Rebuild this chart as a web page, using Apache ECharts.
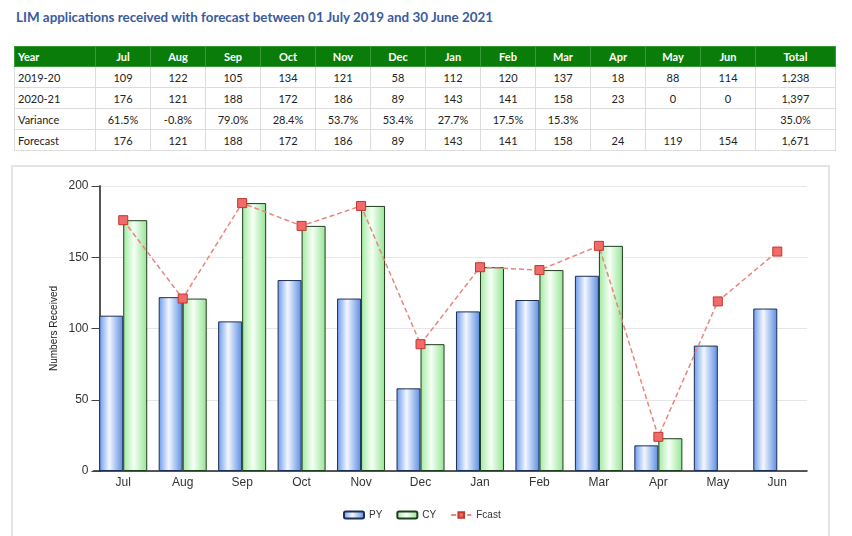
<!DOCTYPE html>
<html>
<head>
<meta charset="utf-8">
<script src="https://cdn.jsdelivr.net/npm/echarts@6/dist/echarts.min.js"></script>
<style>
  html, body { margin: 0; padding: 0; background: #fff; }
  body { width: 852px; height: 536px; position: relative; overflow: hidden; }
  #title { position: absolute; left: 16px; top: 9px; font-family: Lato, "Open Sans", sans-serif; font-weight: bold; font-size: 13.4px; color: #3a5ba0; white-space: nowrap; }
  #tbl { position: absolute; left: 14px; top: 46px; border-collapse: collapse; font-family: Lato, "Open Sans", sans-serif; font-size: 11px; color: #222; table-layout: fixed; }
  #tbl th { background: #0a7c0a; color: #fff; font-weight: bold; height: 19px; padding: 0; border: 1px solid #3a9a3a; text-align: center; }
  #tbl td { height: 20px; padding: 0; border: 1px solid #dcdcdc; text-align: center; }
  #tbl th:first-child, #tbl td:first-child { text-align: left; padding-left: 3px; }
  #panel { position: absolute; left: 11px; top: 165px; width: 815px; height: 400px; border: 2px solid #e4e4e4; }
  #chart { position: absolute; left: 0; top: 0; width: 852px; height: 536px; }
</style>
</head>
<body>
<div id="title">LIM applications received with forecast between 01 July 2019 and 30 June 2021</div>
<table id="tbl"></table>
<div id="panel"></div>
<div id="chart"></div>
<script>
const months = ['Jul','Aug','Sep','Oct','Nov','Dec','Jan','Feb','Mar','Apr','May','Jun'];
const py = [109,122,105,134,121,58,112,120,137,18,88,114];
const cyTable = [176,121,188,172,186,89,143,141,158,23,0,0];
const cyChart = [176,121,188,172,186,89,143,141,158,23,null,null];
const fcast = [176,121,188,172,186,89,143,141,158,24,119,154];
const variance = ['61.5%','-0.8%','79.0%','28.4%','53.7%','53.4%','27.7%','17.5%','15.3%','','',''];
const totals = { py: '1,238', cy: '1,397', variance: '35.0%', fcast: '1,671' };
const rowLabels = ['2019-20','2020-21','Variance','Forecast'];
const yTicks = [0, 50, 100, 150, 200];

// table
(function () {
  const tbl = document.getElementById('tbl');
  const widths = [81].concat(months.map(() => 55)).concat([80]);
  let html = '<colgroup>' + widths.map(w => '<col style="width:' + w + 'px">').join('') + '</colgroup>';
  html += '<tr><th>Year</th>' + months.map(m => '<th>' + m + '</th>').join('') + '<th>Total</th></tr>';
  const rows = [
    [rowLabels[0], py, totals.py],
    [rowLabels[1], cyTable, totals.cy],
    [rowLabels[2], variance, totals.variance],
    [rowLabels[3], fcast, totals.fcast]
  ];
  rows.forEach(r => {
    html += '<tr><td>' + r[0] + '</td>' + r[1].map(v => '<td>' + v + '</td>').join('') + '<td>' + r[2] + '</td></tr>';
  });
  tbl.innerHTML = html;
})();

const chart = echarts.init(document.getElementById('chart'));
const blueGrad = new echarts.graphic.LinearGradient(0, 0, 1, 0, [
  { offset: 0, color: '#6a9aec' },
  { offset: 0.42, color: '#f3f7ff' },
  { offset: 1, color: '#5a8ce2' }
]);
const greenGrad = new echarts.graphic.LinearGradient(0, 0, 1, 0, [
  { offset: 0, color: '#a0eaa0' },
  { offset: 0.45, color: '#f6fff6' },
  { offset: 1, color: '#94e494' }
]);
chart.setOption({
  animation: false,
  textStyle: { fontFamily: 'Liberation Sans, Arial, sans-serif' },
  grid: { left: 93.5, right: 45, top: 186, bottom: 65, containLabel: false, outerBoundsMode: 'none' },
  legend: {
    left: 338, top: 505,
    itemWidth: 20, itemHeight: 7, itemGap: 14,
    textStyle: { fontSize: 10, color: '#333' },
    data: ['PY', 'CY', 'Fcast']
  },
  xAxis: {
    type: 'category',
    data: months,
    axisLine: { lineStyle: { color: '#222', width: 1.5 } },
    axisTick: { alignWithLabel: true, length: 4, lineStyle: { color: '#222' } },
    axisLabel: { fontSize: 12, color: '#333', margin: 6 }
  },
  yAxis: {
    type: 'value',
    min: yTicks[0], max: yTicks[yTicks.length - 1], interval: 50,
    offset: -6,
    name: 'Numbers Received',
    nameLocation: 'middle',
    nameGap: 40,
    nameMoveOverlap: false,
    nameTextStyle: { fontSize: 10, color: '#222' },
    axisLine: { show: true, lineStyle: { color: '#555', width: 2 } },
    axisTick: { show: true, length: 8, lineStyle: { color: '#444' } },
    axisLabel: { fontSize: 12, color: '#333', margin: 11 },
    splitLine: { lineStyle: { color: '#e6e6e6' } }
  },
  series: [
    {
      name: 'PY', type: 'bar', data: py, barWidth: 24, barGap: '0%',
      itemStyle: { color: blueGrad, borderColor: '#1d2f55', borderWidth: 1 }
    },
    {
      name: 'CY', type: 'bar', data: cyChart, barWidth: 24, barGap: '0%',
      itemStyle: { color: greenGrad, borderColor: '#1f3d1f', borderWidth: 1 }
    },
    {
      name: 'Fcast', type: 'line', data: fcast,
      symbol: 'rect', symbolSize: 9,
      itemStyle: { color: '#f36a6a', borderColor: '#c0392b', borderWidth: 1 },
      lineStyle: { color: '#e8867c', width: 1.5, type: [5, 3] },
      z: 5
    }
  ]
});
</script>
</body>
</html>
